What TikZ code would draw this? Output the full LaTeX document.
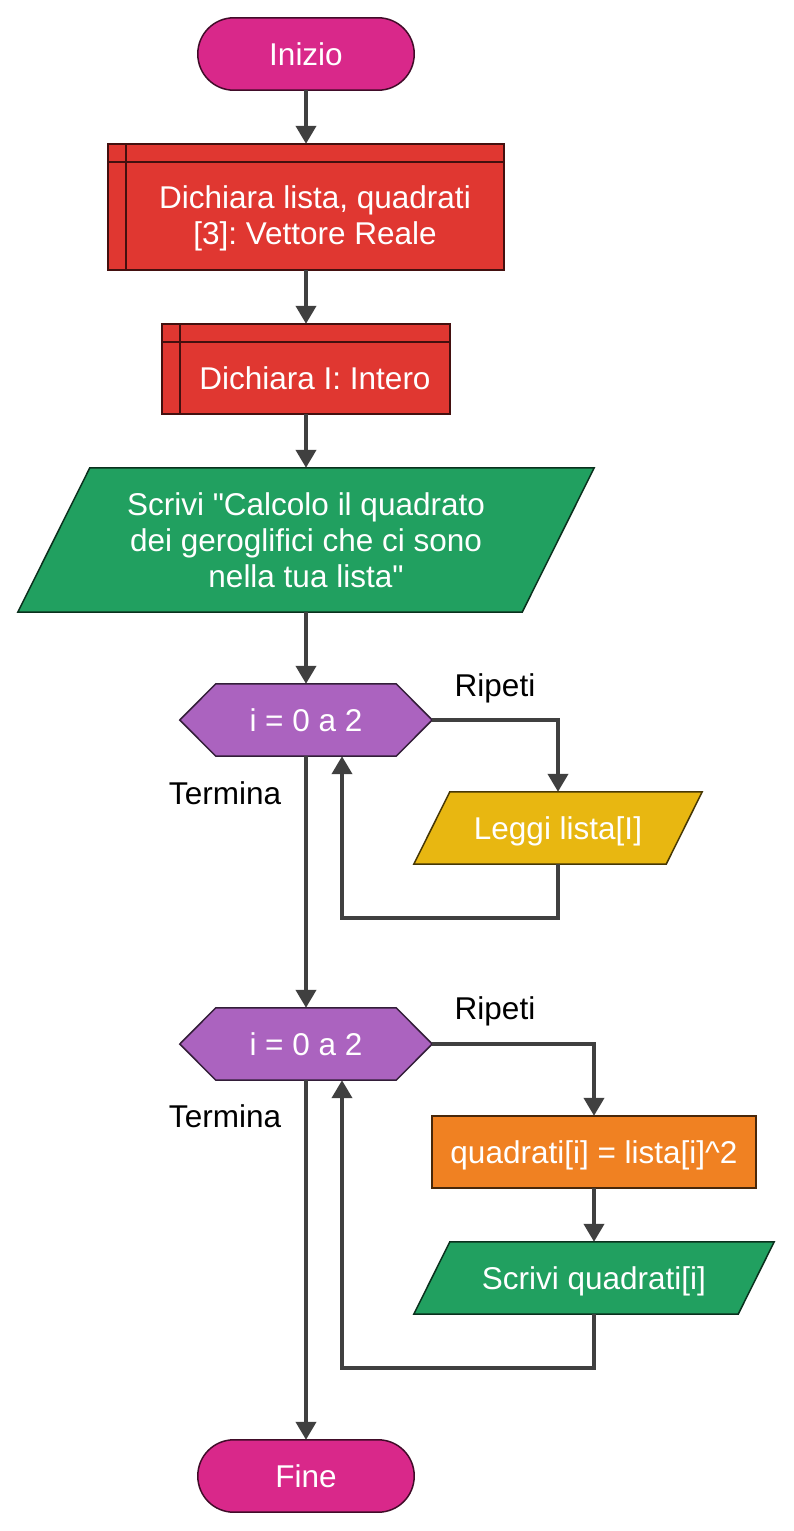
\documentclass[tikz,border=0pt]{standalone}
\usepackage{fontspec}
\setmainfont{Liberation Sans}[Ligatures=TeXOff]
\usetikzlibrary{arrows.meta,backgrounds}
\definecolor{cMag}{HTML}{D9288A}
\definecolor{cRed}{HTML}{E03731}
\definecolor{cGreen}{HTML}{21A060}
\definecolor{cPurp}{HTML}{AB63BF}
\definecolor{cYel}{HTML}{E8B711}
\definecolor{cOra}{HTML}{F08122}
\definecolor{cLine}{HTML}{404040}
\frenchspacing
\begin{document}
\begin{tikzpicture}[x=1pt,y=-1pt,
  nd/.style={inner sep=0pt, align=center, text=white, font=\fontsize{31.5}{36}\selectfont},
  oneline/.style={text height=22.7pt, text depth=0pt},
  lbl/.style={inner sep=0pt, text=black, font=\fontsize{31.5}{36}\selectfont, text height=22.7pt, text depth=0pt},
  shp/.style={fill=#1, draw=#1!30!black, line width=1.5pt},
  conn/.style={draw=cLine, line width=4pt, -{Triangle[width=20pt,length=18pt]}}
]
\useasboundingbox (0,0) rectangle (793,1531);

% nodes
\node[nd, oneline, minimum width=216pt, minimum height=72pt] (start) at (306,54) {Inizio};
\node[nd, minimum width=396pt, minimum height=126pt] (d1) at (306,207) {};
\node[nd] (d1t) at (315,218) {Dichiara lista, quadrati\\{}[3]: Vettore Reale};
\node[nd, minimum width=288pt, minimum height=90pt] (d2) at (306,369) {};
\node[nd, oneline] (d2t) at (315,378) {Dichiara I: Intero};
\node[nd, minimum width=576pt, minimum height=144pt] (p1) at (306,540) {Scrivi "Calcolo il quadrato\\dei geroglifici che ci sono\\nella tua lista"};
\node[nd, oneline, minimum width=252pt, minimum height=72pt] (h1) at (306,720) {i = 0 a 2};
\node[nd, oneline, minimum width=288pt, minimum height=72pt] (r1) at (558,828) {Leggi lista[I]};
\node[nd, oneline, minimum width=252pt, minimum height=72pt] (h2) at (306,1044) {i = 0 a 2};
\node[nd, oneline, minimum width=324pt, minimum height=72pt] (o1) at (594,1152) {quadrati[i] = lista[i]\^{}2};
\node[nd, oneline, minimum width=360pt, minimum height=72pt] (s2) at (594,1278) {Scrivi quadrati[i]};
\node[nd, oneline, minimum width=216pt, minimum height=72pt] (end) at (306,1476) {Fine};

\node[lbl] (rip1) at (495,685) {Ripeti};
\node[lbl] (ter1) at (225,793) {Termina};
\node[lbl] (rip2) at (495,1008) {Ripeti};
\node[lbl] (ter2) at (225,1116) {Termina};

% shapes
\begin{scope}[on background layer]
\fill[white] (0,0) rectangle (793,1531);
\draw[shp=cMag, rounded corners=36pt] (start.north west) rectangle (start.south east);
\draw[shp=cMag, rounded corners=36pt] (end.north west) rectangle (end.south east);
\draw[shp=cRed] (d1.north west) rectangle (d1.south east);
\draw[draw=cRed!30!black, line width=1.5pt] ([xshift=18pt]d1.north west) -- ([xshift=18pt]d1.south west)
  ([yshift=-18pt]d1.north west) -- ([yshift=-18pt]d1.north east);
\draw[shp=cRed] (d2.north west) rectangle (d2.south east);
\draw[draw=cRed!30!black, line width=1.5pt] ([xshift=18pt]d2.north west) -- ([xshift=18pt]d2.south west)
  ([yshift=-18pt]d2.north west) -- ([yshift=-18pt]d2.north east);
\draw[shp=cGreen] (p1.south west) -- ([xshift=-72pt]p1.south east) -- (p1.north east) -- ([xshift=72pt]p1.north west) -- cycle;
\draw[shp=cPurp] (h1.west) -- ([xshift=36pt]h1.north west) -- ([xshift=-36pt]h1.north east) -- (h1.east)
  -- ([xshift=-36pt]h1.south east) -- ([xshift=36pt]h1.south west) -- cycle;
\draw[shp=cYel] (r1.south west) -- ([xshift=-36pt]r1.south east) -- (r1.north east) -- ([xshift=36pt]r1.north west) -- cycle;
\draw[shp=cPurp] (h2.west) -- ([xshift=36pt]h2.north west) -- ([xshift=-36pt]h2.north east) -- (h2.east)
  -- ([xshift=-36pt]h2.south east) -- ([xshift=36pt]h2.south west) -- cycle;
\draw[shp=cOra] (o1.north west) rectangle (o1.south east);
\draw[shp=cGreen] (s2.south west) -- ([xshift=-36pt]s2.south east) -- (s2.north east) -- ([xshift=36pt]s2.north west) -- cycle;
\end{scope}

% connectors
\coordinate (h1in) at ([xshift=36pt]h1.south);
\coordinate (h2in) at ([xshift=36pt]h2.south);
\coordinate (r1out) at ([yshift=-54pt]r1.south);
\coordinate (s2out) at ([yshift=-54pt]s2.south);
\draw[conn] (start.south) -- (d1.north);
\draw[conn] (d1.south) -- (d2.north);
\draw[conn] (d2.south) -- (p1.north);
\draw[conn] (p1.south) -- (h1.north);
\draw[conn] (h1.east) -| (r1.north);
\draw[conn] (r1.south) -- (r1out) -| (h1in);
\draw[conn] (h1.south) -- (h2.north);
\draw[conn] (h2.east) -| (o1.north);
\draw[conn] (o1.south) -- (s2.north);
\draw[conn] (s2.south) -- (s2out) -| (h2in);
\draw[conn] (h2.south) -- (end.north);
\end{tikzpicture}
\end{document}
